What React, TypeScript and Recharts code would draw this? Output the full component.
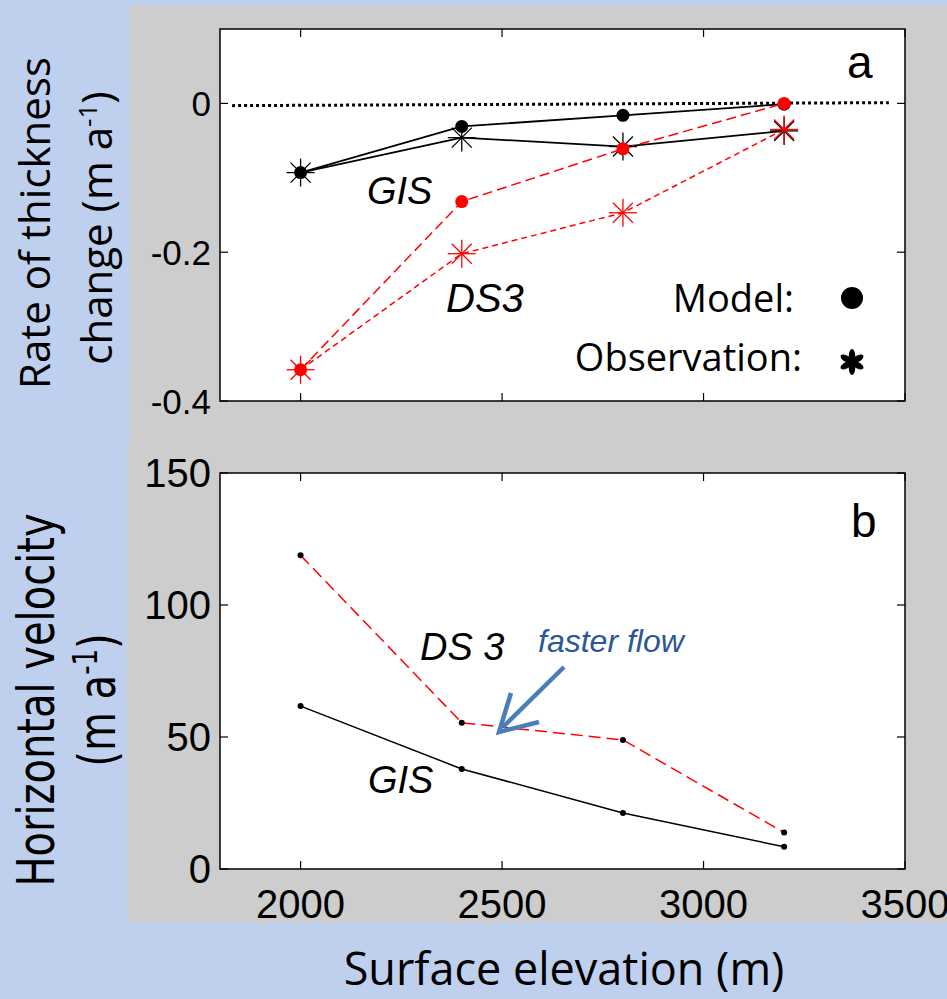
import { LineChart, Line, XAxis, YAxis, CartesianGrid, ReferenceArea, ReferenceLine } from 'recharts'

// surface elevation (m) of the four sites
const elevations = [2000, 2400, 2800, 3200]

// panel a: rate of thickness change (m a-1)
const gisModelRate = [-0.093, -0.031, -0.016, -0.001]
const gisObsRate = [-0.093, -0.046, -0.058, -0.037]
const ds3ModelRate = [-0.358, -0.132, -0.061, 0]
const ds3ObsRate = [-0.358, -0.202, -0.147, -0.035]

// panel b: horizontal velocity (m a-1)
const gisVelocity = [61.7, 37.9, 21.2, 8.4]
const ds3Velocity = [118.8, 55.4, 48.9, 13.8]

const elevationTicks = [2000, 2500, 3000, 3500]
const rateTicks = [-0.4, -0.2, 0]
const velocityTicks = [0, 50, 100, 150]
const zeroLine = [{ x: 1830, y: -0.003 }, { x: 3460, y: 0.001 }]

const rateData = elevations.map((e, i) => ({
  elevation: e,
  gisModel: gisModelRate[i],
  gisObs: gisObsRate[i],
  ds3Model: ds3ModelRate[i],
  ds3Obs: ds3ObsRate[i],
}))

const velocityData = elevations.map((e, i) => ({
  elevation: e,
  gis: gisVelocity[i],
  ds3: ds3Velocity[i],
}))

const RED = '#ff0000'
const TICK_FONT = 'Liberation Sans, Arial, sans-serif'

type Box = { left: number; right: number; top: number; bottom: number }
const BOX_A: Box = { left: 220, right: 905, top: 29, bottom: 401 }
const BOX_B: Box = { left: 220, right: 905, top: 33, bottom: 429 }

function XTick(props: any) {
  const { x, payload, box, showLabel } = props
  return (
    <g>
      <line x1={x} x2={x} y1={box.bottom} y2={box.bottom - 8} stroke="#000" strokeWidth={1.2} />
      <line x1={x} x2={x} y1={box.top} y2={box.top + 8} stroke="#000" strokeWidth={1.2} />
      {showLabel && (
        <text x={x} y={box.bottom + 49} textAnchor="middle" fontFamily={TICK_FONT} fontSize={40} fill="#000">
          {payload.value}
        </text>
      )}
    </g>
  )
}

function YTick(props: any) {
  const { y, payload, box, fontSize } = props
  return (
    <g>
      <line x1={box.left} x2={box.left + 8} y1={y} y2={y} stroke="#000" strokeWidth={1.2} />
      <line x1={box.right} x2={box.right - 8} y1={y} y2={y} stroke="#000" strokeWidth={1.2} />
      <text x={box.left - 9} y={y + fontSize * 0.36} textAnchor="end" fontFamily={TICK_FONT} fontSize={fontSize} fill="#000">
        {payload.value}
      </text>
    </g>
  )
}

function Asterisk({ cx, cy, color }: { cx: number; cy: number; color: string }) {
  return (
    <g stroke={color} strokeWidth={1.3}>
      <line x1={cx} y1={cy - 14} x2={cx} y2={cy + 14} />
      <line x1={cx - 14} y1={cy} x2={cx + 14} y2={cy} />
      <line x1={cx - 10} y1={cy - 10} x2={cx + 10} y2={cy + 10} />
      <line x1={cx - 10} y1={cy + 10} x2={cx + 10} y2={cy - 10} />
    </g>
  )
}

const starDot = (color: string) => (p: any) => <Asterisk key={`s${p.index}`} cx={p.cx} cy={p.cy} color={color} />
const roundDot = (color: string, r: number) => (p: any) => (
  <circle key={`c${p.index}`} cx={p.cx} cy={p.cy} r={r} fill={color} stroke="none" />
)

// heavy teardrop asterisk used in the legend
function LegendStar({ cx, cy }: { cx: number; cy: number }) {
  const angles = [-90, -30, 30, 90, 150, 210]
  return (
    <g fill="#000">
      {angles.map((a) => (
        <ellipse key={a} cx={0} cy={0} rx={6.5} ry={3.2} transform={`translate(${cx},${cy}) rotate(${a}) translate(6.5,0)`} />
      ))}
    </g>
  )
}

function RateChart() {
  return (
    <LineChart width={947} height={442} data={rateData} margin={{ top: 29, right: 42, bottom: 11, left: 0 }}>
      <CartesianGrid horizontal={false} vertical={false} fill="#fff" />
      <XAxis
        type="number"
        dataKey="elevation"
        domain={[1800, 3500]}
        ticks={elevationTicks}
        height={30}
        axisLine={false}
        tickLine={false}
        tick={(p: any) => <XTick {...p} box={BOX_A} showLabel={false} />}
      />
      <YAxis
        type="number"
        domain={[-0.4, 0.1]}
        ticks={rateTicks}
        width={220}
        axisLine={false}
        tickLine={false}
        tick={(p: any) => <YTick {...p} box={BOX_A} fontSize={35} />}
      />
      <ReferenceArea x1={1800} x2={3500} y1={-0.4} y2={0.1} fill="none" stroke="#000" strokeWidth={1.5} />
      <ReferenceLine segment={zeroLine} stroke="#000" strokeWidth={3} strokeDasharray="3 3" />
      <Line dataKey="gisObs" stroke="#000" strokeWidth={1.8} dot={starDot('#000')} isAnimationActive={false} />
      <Line dataKey="gisModel" stroke="#000" strokeWidth={1.8} dot={roundDot('#000', 6.5)} isAnimationActive={false} />
      <Line dataKey="ds3Obs" stroke={RED} strokeWidth={1.5} strokeDasharray="6 4" dot={starDot(RED)} isAnimationActive={false} />
      <Line dataKey="ds3Model" stroke={RED} strokeWidth={1.5} strokeDasharray="10 5" dot={roundDot(RED, 6.5)} isAnimationActive={false} />
    </LineChart>
  )
}

function VelocityChart() {
  return (
    <LineChart width={947} height={559} data={velocityData} margin={{ top: 33, right: 42, bottom: 70, left: 0 }}>
      <CartesianGrid horizontal={false} vertical={false} fill="#fff" />
      <XAxis
        type="number"
        dataKey="elevation"
        domain={[1800, 3500]}
        ticks={elevationTicks}
        height={60}
        axisLine={false}
        tickLine={false}
        tick={(p: any) => <XTick {...p} box={BOX_B} showLabel />}
      />
      <YAxis
        type="number"
        domain={[0, 150]}
        ticks={velocityTicks}
        width={220}
        axisLine={false}
        tickLine={false}
        tick={(p: any) => <YTick {...p} box={BOX_B} fontSize={40} />}
      />
      <ReferenceArea x1={1800} x2={3500} y1={0} y2={150} fill="none" stroke="#000" strokeWidth={1.5} />
      <Line dataKey="gis" stroke="#000" strokeWidth={1.5} dot={roundDot('#000', 3)} isAnimationActive={false} />
      <Line dataKey="ds3" stroke={RED} strokeWidth={1.5} strokeDasharray="12 6" dot={roundDot('#000', 3)} isAnimationActive={false} />
    </LineChart>
  )
}

export default function App() {
  const italic = { fontFamily: TICK_FONT, fontStyle: 'italic' as const, fill: '#000' }
  return (
    <div
      style={{
        position: 'absolute',
        left: 0,
        top: 0,
        width: 947,
        height: 999,
        overflow: 'hidden',
        background: '#bfcfee',
      }}
    >
      <div style={{ position: 'absolute', left: 130, top: 5, width: 817, height: 437, background: '#cdcdcd' }} />
      <div style={{ position: 'absolute', left: 127, top: 442, width: 820, height: 481, background: '#cdcdcd' }} />

      <div style={{ position: 'absolute', left: 0, top: 0 }}>
        <RateChart />
      </div>
      <div style={{ position: 'absolute', left: 0, top: 440 }}>
        <VelocityChart />
      </div>

      <svg width={947} height={999} style={{ position: 'absolute', left: 0, top: 0, pointerEvents: 'none' }}>
        {/* panel a labels */}
        <text x={847} y={78} fontFamily={TICK_FONT} fontSize={46}>a</text>
        <text x={367} y={204} fontSize={38} {...italic}>GIS</text>
        <text x={446} y={312} fontSize={40} {...italic}>DS3</text>
        <text x={794} y={312} textAnchor="end" fontFamily="Open Sans" fontSize={38}>Model:</text>
        <circle cx={852} cy={298} r={11} fill="#000" />
        <text x={802} y={371} textAnchor="end" fontFamily="Open Sans" fontSize={38}>Observation:</text>
        <LegendStar cx={852} cy={362} />

        {/* panel b labels */}
        <text x={851} y={537} fontFamily={TICK_FONT} fontSize={46}>b</text>
        <text x={420} y={660} fontSize={38} {...italic}>DS 3</text>
        <text x={368} y={793} fontSize={38} {...italic}>GIS</text>
        <text x={538} y={652} fontSize={32} {...italic} fill="#2b5797">faster flow</text>
        <g stroke="#4a7ebb" strokeWidth={4.5} fill="none">
          <line x1={564} y1={667} x2={503} y2={727} />
          <polyline points="511,693 499,732 539,722" strokeLinejoin="miter" />
        </g>

        {/* axis titles */}
        <text transform="translate(50,223) rotate(-90)" textAnchor="middle" fontFamily="Open Sans" fontSize={42}>
          Rate of thickness
        </text>
        <text transform="translate(112,228) rotate(-90)" textAnchor="middle" fontFamily="Open Sans" fontSize={42}>
          change (m a<tspan dy={-15} fontSize={26}>-1</tspan>
          <tspan dy={15}>)</tspan>
        </text>
        <text transform="translate(54,700) rotate(-90) scale(1,1.3)" textAnchor="middle" fontFamily="DejaVu Sans" fontSize={40}>
          Horizontal velocity
        </text>
        <text transform="translate(115,700) rotate(-90) scale(1,1.3)" textAnchor="middle" fontFamily="DejaVu Sans" fontSize={40}>
          (m a<tspan dy={-14} fontSize={26}>-1</tspan>
          <tspan dy={14}>)</tspan>
        </text>
        <text x={564} y={985} textAnchor="middle" fontFamily="Open Sans" fontSize={45}>
          Surface elevation (m)
        </text>
      </svg>
    </div>
  )
}
